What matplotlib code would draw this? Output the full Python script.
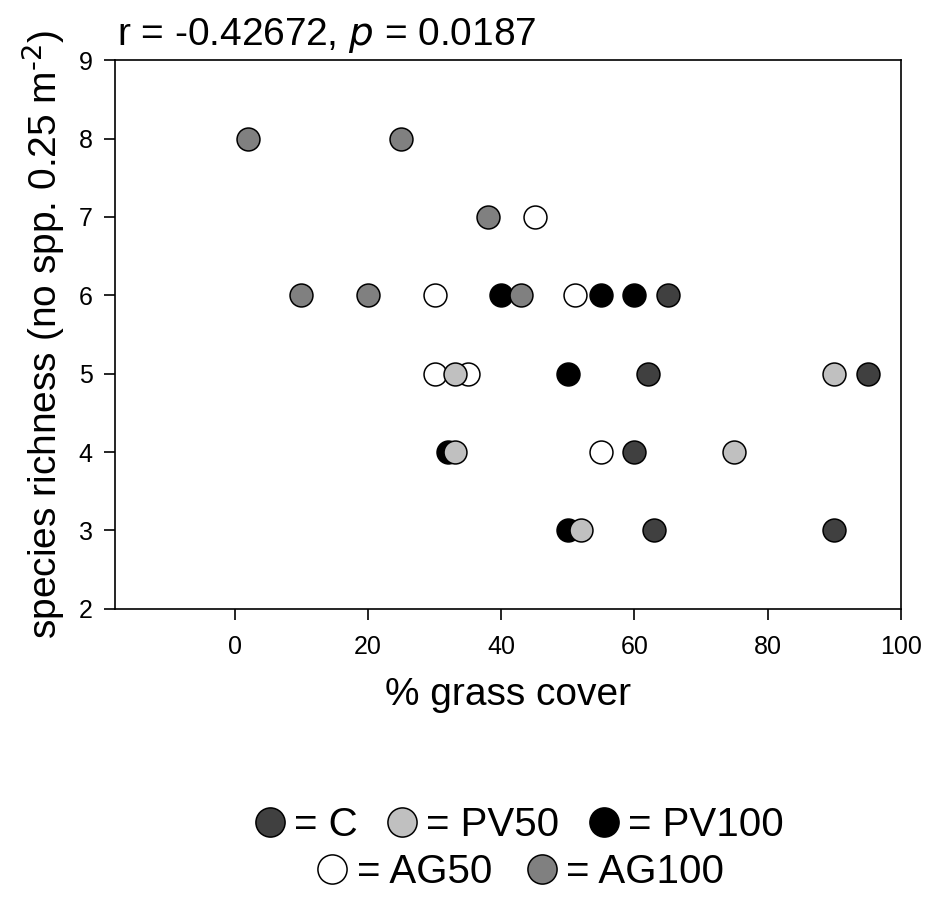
import matplotlib
matplotlib.use("Agg")
import matplotlib.pyplot as plt
from matplotlib.lines import Line2D

plt.rcParams['font.family'] = ['Liberation Sans', 'DejaVu Sans']

# % grass cover and species richness per treatment
c_cover = [65, 62, 95, 60, 63, 90]
c_rich = [6, 5, 5, 4, 3, 3]

pv100_cover = [40, 55, 60, 50, 32, 50]
pv100_rich = [6, 6, 6, 5, 4, 3]

ag50_cover = [45, 30, 51, 30, 35, 55]
ag50_rich = [7, 6, 6, 5, 5, 4]

pv50_cover = [33, 90, 33, 75, 52]
pv50_rich = [5, 5, 4, 4, 3]

ag100_cover = [2, 25, 38, 10, 20, 43]
ag100_rich = [8, 8, 7, 6, 6, 6]

groups = [
    ("C", c_cover, c_rich, "#404040"),
    ("PV100", pv100_cover, pv100_rich, "#000000"),
    ("AG50", ag50_cover, ag50_rich, "#ffffff"),
    ("PV50", pv50_cover, pv50_rich, "#c0c0c0"),
    ("AG100", ag100_cover, ag100_rich, "#808080"),
]
colours = {name: col for name, _, _, col in groups}

fig = plt.figure(figsize=(9.26, 8.98), dpi=100)
ax = fig.add_axes([0.124, 0.322, 0.849, 0.611])

for name, xs, ys, col in groups:
    ax.plot(xs, ys, 'o', ms=16.5, mfc=col, mec='black', mew=1.1, ls='none')

ax.set_xlim(-18, 100)
ax.set_ylim(2, 9)
ax.set_xticks([0, 20, 40, 60, 80, 100])
ax.set_yticks(range(2, 10))
ax.tick_params(direction='out', length=8, width=1.2, labelsize=18)
ax.tick_params(axis='x', pad=11)
ax.tick_params(axis='y', pad=8)
for s in ax.spines.values():
    s.set_linewidth(1.2)

ax.set_xlabel("% grass cover", fontsize=28, labelpad=13)
ax.set_ylabel("species richness (no spp. 0.25 m$^{\\text{-2}}$)", fontsize=28, labelpad=8)
ax.text(0.003, 1.01, "r = -0.42672, $\\mathit{p}$ = 0.0187", transform=ax.transAxes,
        fontsize=28, ha='left', va='bottom')


def handle(name):
    return Line2D([], [], marker='o', ls='none', ms=21, mfc=colours[name],
                  mec='black', mew=1.1)


row1 = ["C", "PV50", "PV100"]
row2 = ["AG50", "AG100"]
leg1 = fig.legend([handle(n) for n in row1], ["= " + n for n in row1],
                  loc='center', bbox_to_anchor=(0.56, 0.081), ncol=3, frameon=False,
                  fontsize=29, handlelength=0.8, handletextpad=0.2, columnspacing=0.7)
leg2 = fig.legend([handle(n) for n in row2], ["= " + n for n in row2],
                  loc='center', bbox_to_anchor=(0.562, 0.029), ncol=2, frameon=False,
                  fontsize=29, handlelength=0.8, handletextpad=0.2, columnspacing=0.85)

fig.savefig("out.png", dpi=100)
